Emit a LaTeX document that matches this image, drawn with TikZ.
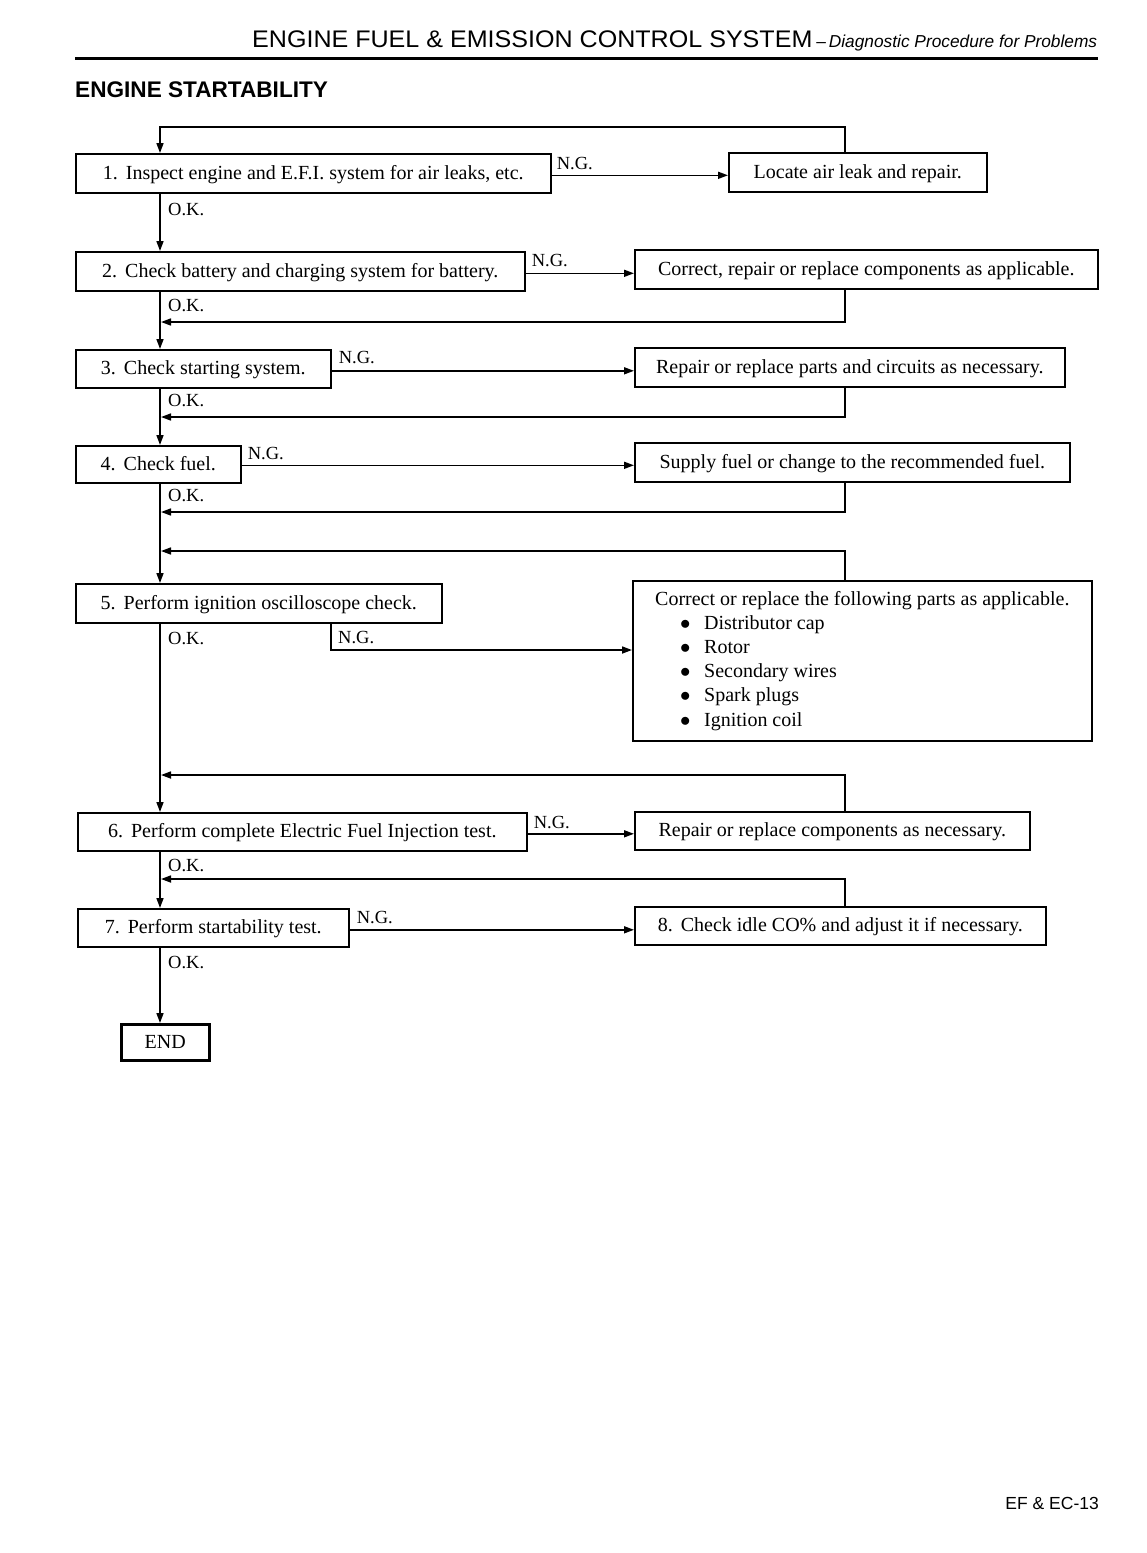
\documentclass[tikz,border=0pt]{standalone}
\usepackage{fontspec}
\setmainfont{Liberation Serif}
\newfontfamily\hdrfont[FakeStretch=1.045]{Liberation Sans}
\newfontfamily\sansfnt{Liberation Sans}
\usetikzlibrary{arrows.meta,calc}
\newcommand\mybody{\fontsize{20pt}{24.2pt}\selectfont}
\newcommand\mylbl{\fontsize{18.5pt}{20pt}\selectfont}
\newcommand\gap{\hspace{0.4em}}
\tikzset{
  stepbox/.style={draw, line width=1.6pt, anchor=north west, inner sep=0pt,
    text height=12pt, text depth=0pt, font=\mybody},
  arr/.style={line width=1.6pt, -{Triangle[length=10pt,width=7pt]}},
  lbl/.style={anchor=base west, inner sep=0pt, font=\mylbl},
}
\begin{document}
\begin{tikzpicture}[x=1pt,y=-1pt]
\fill[white] (0,0) rectangle (1147,1553);
\useasboundingbox (0,0) rectangle (1147,1553);

% header
\node[anchor=base west, inner sep=0pt] (hdr) at (252,47)
  {\hdrfont\fontsize{24pt}{28pt}\selectfont ENGINE FUEL \& EMISSION CONTROL SYSTEM\,{\sansfnt\fontsize{17.3pt}{20pt}\selectfont –\,\itshape Diagnostic Procedure for Problems}};
\draw[line width=3pt] (75,58) -- (1098,58);
\node[anchor=base west, inner sep=0pt, font=\sansfnt\bfseries\fontsize{22.6pt}{26pt}\selectfont] (title) at (75,97) {ENGINE STARTABILITY};

% helper coordinates
\coordinate (xr) at (845,0);
\coordinate (j1) at (160,127);
\coordinate (j2) at (161,322);
\coordinate (j3) at (161,417);
\coordinate (j4) at (161,512);
\coordinate (j5) at (161,551);
\coordinate (j6) at (161,775);
\coordinate (j7) at (161,879);
\coordinate (k5) at (331,650);

% boxes
\node[stepbox, minimum width=475pt, minimum height=39pt] (b1) at (75,153) {1.\gap Inspect engine and E.F.I. system for air leaks, etc.};
\node[stepbox, minimum width=258pt, minimum height=39pt] (r1) at (728,152) {Locate air leak and repair.};
\node[stepbox, minimum width=449pt, minimum height=39pt] (b2) at (75,251) {2.\gap Check battery and charging system for battery.};
\node[stepbox, minimum width=463pt, minimum height=39pt] (r2) at (634,249) {Correct, repair or replace components as applicable.};
\node[stepbox, minimum width=255pt, minimum height=38pt] (b3) at (75,349) {3.\gap Check starting system.};
\node[stepbox, minimum width=430pt, minimum height=39pt] (r3) at (634,347) {Repair or replace parts and circuits as necessary.};
\node[stepbox, minimum width=165pt, minimum height=37pt] (b4) at (75,445) {4.\gap Check fuel.};
\node[stepbox, minimum width=435pt, minimum height=39pt] (r4) at (634,442) {Supply fuel or change to the recommended fuel.};
\node[stepbox, minimum width=366pt, minimum height=39pt] (b5) at (75,583) {5.\gap Perform ignition oscilloscope check.};
\node[draw, line width=1.6pt, anchor=north west, inner sep=0pt, minimum width=459pt, minimum height=160pt, font=\mybody] (r5) at (632,580)
  {\begin{tabular}{@{}l@{}}
   Correct or replace the following parts as applicable.\\
   \makebox[49pt][l]{\hspace{25pt}$\bullet$}Distributor cap\\
   \makebox[49pt][l]{\hspace{25pt}$\bullet$}Rotor\\
   \makebox[49pt][l]{\hspace{25pt}$\bullet$}Secondary wires\\
   \makebox[49pt][l]{\hspace{25pt}$\bullet$}Spark plugs\\
   \makebox[49pt][l]{\hspace{25pt}$\bullet$}Ignition coil
   \end{tabular}};
\node[stepbox, minimum width=449pt, minimum height=38pt] (b6) at (77,812) {6.\gap Perform complete Electric Fuel Injection test.};
\node[stepbox, minimum width=395pt, minimum height=38pt] (r6) at (634,811) {Repair or replace components as necessary.};
\node[stepbox, minimum width=271pt, minimum height=38pt] (b7) at (77,908) {7.\gap Perform startability test.};
\node[stepbox, minimum width=411pt, minimum height=38pt] (r8) at (634,906) {8.\gap Check idle CO\% and adjust it if necessary.};
\node[stepbox, line width=2.6pt, minimum width=88pt, minimum height=36pt] (end) at (120,1023) {END};

% O.K. spine
\draw[arr] (r1.north -| xr) |- (j1) -- (b1.north -| j1);
\draw[arr] (b1.south -| j1) -- (b2.north -| j1);
\draw[arr] (b2.south -| j1) -- (b3.north -| j1);
\draw[arr] (b3.south -| j1) -- (b4.north -| j1);
\draw[arr] (b4.south -| j1) -- (b5.north -| j1);
\draw[arr] (b5.south -| j1) -- (b6.north -| j1);
\draw[arr] (b6.south -| j1) -- (b7.north -| j1);
\draw[arr] (b7.south -| j1) -- (end.north -| j1);

% returns
\draw[arr] (r2.south -| xr) |- (j2);
\draw[arr] (r3.south -| xr) |- (j3);
\draw[arr] (r4.south -| xr) |- (j4);
\draw[arr] (r5.north -| xr) |- (j5);
\draw[arr] (r6.north -| xr) |- (j6);
\draw[arr] (r8.north -| xr) |- (j7);

% N.G. branches
\draw[arr] ([yshift=-2pt]b1.east) -- ([yshift=-2pt]b1.east -| r1.west);
\draw[arr] ([yshift=-2pt]b2.east) -- ([yshift=-2pt]b2.east -| r2.west);
\draw[arr] ([yshift=-2pt]b3.east) -- ([yshift=-2pt]b3.east -| r3.west);
\draw[arr] ([yshift=-1pt]b4.east) -- ([yshift=-1pt]b4.east -| r4.west);
\draw[arr] (b5.south -| k5) |- (r5.west |- k5);
\draw[arr] ([yshift=-2pt]b6.east) -- ([yshift=-2pt]b6.east -| r6.west);
\draw[arr] ([yshift=-2pt]b7.east) -- ([yshift=-2pt]b7.east -| r8.west);

% labels
\node[lbl] (ng1) at ($(b1.east)+(5,-4)$) {N.G.};
\node[lbl] (ng2) at ($(b2.east)+(6,-5)$) {N.G.};
\node[lbl] (ng3) at ($(b3.east)+(7,-5)$) {N.G.};
\node[lbl] (ng4) at ($(b4.east)+(6,-5)$) {N.G.};
\node[lbl] (ng5) at ($(b5.south -| k5)+(7,20)$) {N.G.};
\node[lbl] (ng6) at ($(b6.east)+(6,-3)$) {N.G.};
\node[lbl] (ng7) at ($(b7.east)+(7,-4)$) {N.G.};
\node[lbl] (ok1) at ($(b1.south -| j1)+(8,22)$) {O.K.};
\node[lbl] (ok2) at ($(b2.south -| j1)+(8,20)$) {O.K.};
\node[lbl] (ok3) at ($(b3.south -| j1)+(8,18)$) {O.K.};
\node[lbl] (ok4) at ($(b4.south -| j1)+(8,18)$) {O.K.};
\node[lbl] (ok5) at ($(b5.south -| j1)+(8,21)$) {O.K.};
\node[lbl] (ok6) at ($(b6.south -| j1)+(8,20)$) {O.K.};
\node[lbl] (ok7) at ($(b7.south -| j1)+(8,21)$) {O.K.};

% footer
\node[anchor=base east, inner sep=0pt, font=\sansfnt\fontsize{17.5pt}{20pt}\selectfont] (pg) at (1099,1509) {EF \& EC-13};
\end{tikzpicture}
\end{document}
